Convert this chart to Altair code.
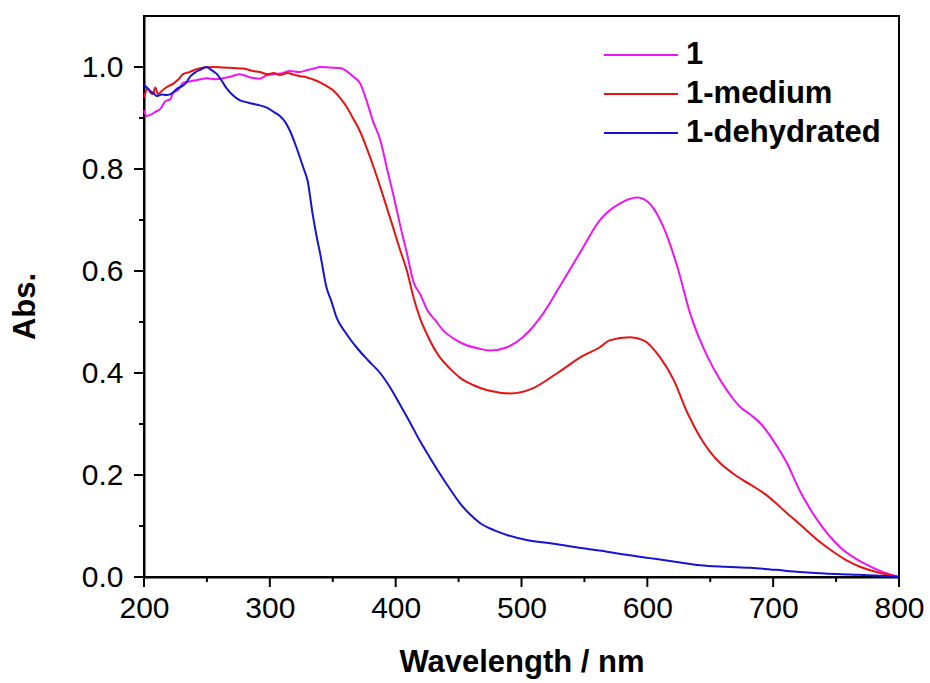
import altair as alt
import pandas as pd

# ---- data ----
wl_1 = [200, 202, 205, 209, 213, 217, 221, 223, 227, 231, 237, 243, 250, 257, 263, 270, 276, 284,
        292, 297, 303, 310, 316, 323, 330, 335, 340, 348, 356, 361, 366, 372, 377, 382, 388, 393,
        398, 404, 409, 414, 420, 425, 431, 438, 447, 457, 466, 475, 488, 501, 515, 531, 547, 562,
        578, 592, 602, 613, 624, 634, 648, 658, 668, 674, 682, 690, 700, 711, 721, 735, 753, 772,
        787, 800]
abs_1 = [0.915, 0.904, 0.906, 0.912, 0.918, 0.933, 0.937, 0.949, 0.955, 0.969, 0.972, 0.975, 0.978,
         0.976, 0.978, 0.982, 0.986, 0.980, 0.977, 0.983, 0.986, 0.988, 0.992, 0.990, 0.994, 0.997,
         1.000, 0.999, 0.998, 0.992, 0.982, 0.967, 0.933, 0.894, 0.855, 0.802, 0.751, 0.685, 0.634,
         0.580, 0.552, 0.524, 0.505, 0.483, 0.466, 0.454, 0.448, 0.444, 0.450, 0.470, 0.509, 0.572,
         0.638, 0.699, 0.732, 0.744, 0.732, 0.685, 0.607, 0.517, 0.431, 0.386, 0.350, 0.333, 0.318,
         0.301, 0.268, 0.223, 0.170, 0.112, 0.059, 0.027, 0.010, 0.000]

wl_med = [200, 203, 205, 207, 209, 211, 215, 219, 223, 227, 231, 236, 242, 248, 255, 263, 271, 279,
          287, 292, 298, 303, 308, 314, 319, 324, 329, 334, 340, 345, 350, 356, 361, 366, 372, 377,
          383, 388, 393, 398, 403, 409, 414, 419, 425, 435, 443, 451, 462, 473, 491, 509, 528, 549,
          562, 570, 586, 597, 610, 621, 632, 642, 650, 658, 667, 676, 686, 695, 703, 711, 720, 729,
          738, 748, 758, 769, 785, 800]
abs_med = [0.940, 0.958, 0.950, 0.947, 0.960, 0.947, 0.955, 0.962, 0.967, 0.975, 0.986, 0.990, 0.996,
           0.999, 1.000, 0.999, 0.998, 0.997, 0.992, 0.990, 0.986, 0.988, 0.984, 0.988, 0.985, 0.982,
           0.980, 0.976, 0.970, 0.963, 0.955, 0.939, 0.922, 0.900, 0.872, 0.841, 0.800, 0.763, 0.724,
           0.685, 0.645, 0.600, 0.550, 0.510, 0.475, 0.431, 0.409, 0.391, 0.376, 0.366, 0.360, 0.370,
           0.399, 0.434, 0.450, 0.464, 0.470, 0.464, 0.431, 0.386, 0.321, 0.274, 0.245, 0.223, 0.205,
           0.190, 0.175, 0.160, 0.143, 0.125, 0.106, 0.086, 0.067, 0.049, 0.033, 0.020, 0.008, 0.000]

wl_dehy = [200, 203, 205, 208, 210, 214, 218, 221, 224, 226, 230, 233, 237, 241, 245, 248, 250, 253,
           256, 258, 262, 266, 270, 276, 283, 290, 298, 303, 308, 312, 316, 320, 324, 327, 330, 334,
           337, 340, 345, 349, 353, 360, 369, 378, 388, 396, 403, 411, 419, 427, 435, 443, 451, 459,
           467, 478, 489, 505, 523, 542, 562, 582, 602, 622, 642, 662, 682, 702, 721, 741, 761, 781,
           800]
abs_dehy = [0.965, 0.958, 0.953, 0.948, 0.943, 0.946, 0.945, 0.947, 0.952, 0.957, 0.962, 0.968, 0.982,
            0.990, 0.995, 0.999, 1.000, 0.995, 0.990, 0.986, 0.972, 0.957, 0.946, 0.935, 0.930, 0.926,
            0.920, 0.912, 0.904, 0.893, 0.875, 0.850, 0.822, 0.800, 0.777, 0.712, 0.670, 0.634, 0.568,
            0.540, 0.509, 0.480, 0.450, 0.425, 0.399, 0.370, 0.340, 0.305, 0.268, 0.235, 0.203, 0.173,
            0.145, 0.123, 0.106, 0.092, 0.082, 0.072, 0.066, 0.059, 0.052, 0.044, 0.037, 0.030, 0.023,
            0.020, 0.018, 0.014, 0.010, 0.007, 0.005, 0.003, 0.000]

series_names = ["1", "1-medium", "1-dehydrated"]
series_colors = ["#F014F0", "#E81212", "#1414D2"]

x_major = [200, 300, 400, 500, 600, 700, 800]
x_minor = [250, 350, 450, 550, 650, 750]
y_major = [0.0, 0.2, 0.4, 0.6, 0.8, 1.0]
y_minor = [0.1, 0.3, 0.5, 0.7, 0.9]

frames = []
for name, xs, ys in [(series_names[0], wl_1, abs_1),
                     (series_names[1], wl_med, abs_med),
                     (series_names[2], wl_dehy, abs_dehy)]:
    frames.append(pd.DataFrame({"wl": xs, "abs": ys, "series": name, "order": range(len(xs))}))
df = pd.concat(frames, ignore_index=True)

FONT = "Liberation Sans"
W, H = 755, 561

xscale = alt.Scale(domain=[200, 800], nice=False, zero=False)
yscale = alt.Scale(domain=[0, 1.1], nice=False)

lines = alt.Chart(df).mark_line(strokeWidth=2, interpolate="monotone").encode(
    x=alt.X("wl:Q", scale=xscale,
            axis=alt.Axis(values=x_major, title="Wavelength / nm", ticks=False,
                          labelPadding=16, labelFlush=False, titlePadding=24, format="d")),
    y=alt.Y("abs:Q", scale=yscale,
            axis=alt.Axis(values=y_major, title="Abs.", ticks=False, labelPadding=21,
                          labelFlush=False, titlePadding=40, titleY=290, format=".1f")),
    color=alt.Color("series:N",
                    scale=alt.Scale(domain=series_names, range=series_colors),
                    legend=alt.Legend(title=None, orient="none", legendX=459, legendY=25,
                                      symbolType="stroke", symbolSize=5476, symbolStrokeWidth=2,
                                      clipHeight=28, labelLimit=400,
                                      labelFontSize=31, labelFontWeight="bold", labelFont=FONT,
                                      labelColor="black", rowPadding=8, labelOffset=7,
                                      padding=0)),
    order="order:Q",
)

xmaj = alt.Chart(pd.DataFrame({"t": x_major})).mark_rule(color="black", strokeWidth=2).encode(
    x=alt.X("t:Q", scale=xscale), y=alt.value(H), y2=alt.value(H + 10))
xmin = alt.Chart(pd.DataFrame({"t": x_minor})).mark_rule(color="black", strokeWidth=2).encode(
    x=alt.X("t:Q", scale=xscale), y=alt.value(H), y2=alt.value(H + 5))
ymaj = alt.Chart(pd.DataFrame({"t": y_major})).mark_rule(color="black", strokeWidth=2).encode(
    y=alt.Y("t:Q", scale=yscale), x=alt.value(-10), x2=alt.value(0))
ymin = alt.Chart(pd.DataFrame({"t": y_minor})).mark_rule(color="black", strokeWidth=2).encode(
    y=alt.Y("t:Q", scale=yscale), x=alt.value(-5), x2=alt.value(0))

chart = alt.layer(lines, xmaj, xmin, ymaj, ymin).properties(
    width=W, height=H,
    autosize=alt.AutoSizeParams(type="none"),
    padding={"left": 144, "top": 16, "right": 31, "bottom": 106},
    background="white",
).configure_view(stroke="black", strokeWidth=2).configure_axis(
    grid=False, domainColor="black", domainWidth=2,
    labelFont=FONT, labelFontSize=30, labelColor="black",
    titleFont=FONT, titleFontSize=31, titleFontWeight="bold", titleColor="black",
)

chart.save("out.html", embed_options={"renderer": "svg", "actions": False})
